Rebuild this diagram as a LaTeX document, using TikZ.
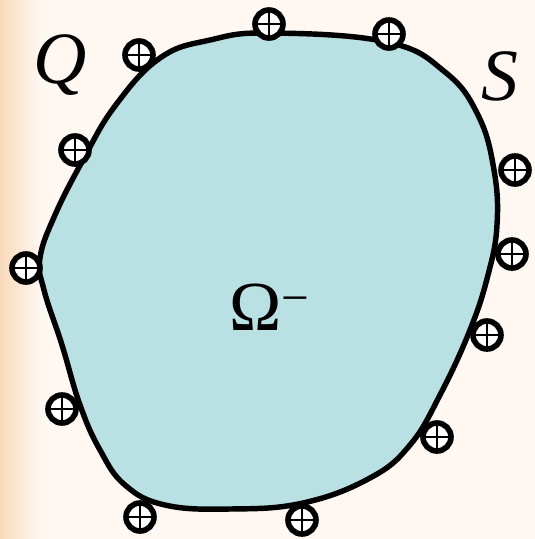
\documentclass[tikz,border=0pt]{standalone}
\usepackage{fontspec}
\setmainfont{Liberation Serif}
\definecolor{bgCream}{RGB}{255,247,242}
\definecolor{bgPeach}{RGB}{248,218,186}
\definecolor{domainTeal}{RGB}{185,224,227}

\begin{document}
\begin{tikzpicture}[x=0.02cm,y=-0.02cm,
  charge/.style={circle,draw,line width=3.2pt,fill=white,minimum size=0.56cm,inner sep=0pt,
    path picture={\draw[line width=1.2pt]
      (path picture bounding box.north) -- (path picture bounding box.south)
      (path picture bounding box.west) -- (path picture bounding box.east);}},
  letter/.style={inner sep=0pt,font=\fontsize{42}{44}\selectfont\itshape}]
\useasboundingbox (0,0) rectangle (535,539);
% background
\fill[bgCream] (0,0) rectangle (535,539);
\shade[left color=bgPeach,right color=bgCream] (0,0) rectangle (40,539);
% domain
\draw[line width=3.1pt,fill=domainTeal] plot[smooth cycle,tension=0.7] coordinates {
  (270,33) (387,42) (445,72) (478,115) (494,170) (497,225) (488,275)
  (470,330) (440,395) (410,445) (370,478) (303,503) (230,509) (165,505)
  (125,485) (100,450) (80,405) (62,345) (44,290) (40,258) (55,215)
  (83,160) (115,106) (160,58) (210,40)};
% charges on the boundary
\foreach \px/\py [count=\i] in {139/55,75/150,26/268,62/409,140/517,302/520,
    437/437,487/335,512/254,515/170,389/34,269/24}
  \node[charge] (c\i) at (\px,\py) {};
% labels
\node[letter,anchor=base west] (Q) at (33,83) {Q};
\node[letter,anchor=base west] (S) at (481,100) {S};
\node[inner sep=0pt,anchor=base west,font=\fontsize{40}{42}\selectfont] (omega) at (229,330) {Ω\textsuperscript{\char"2212}};
\end{tikzpicture}
\end{document}
